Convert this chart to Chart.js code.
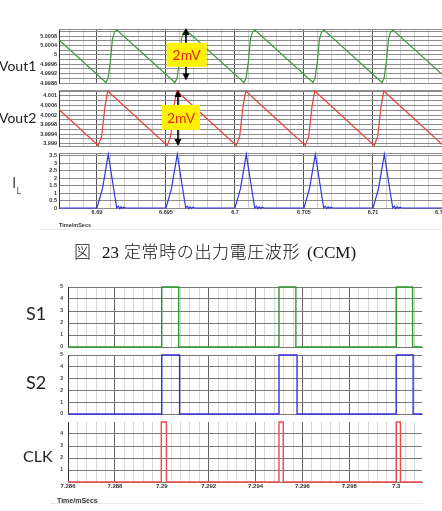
<!DOCTYPE html>
<html>
<head>
<meta charset="utf-8">
<script src="https://cdn.jsdelivr.net/npm/chart.js@4.4.1/dist/chart.umd.min.js"></script>
<style>
  html, body { margin: 0; padding: 0; background: #fff; width: 442px; height: 511px; overflow: hidden; }
  canvas { position: absolute; }
  .side { position: absolute; font-family: Lato, sans-serif; color: #222; white-space: nowrap; line-height: 1; }
  .axisTitle { position: absolute; font-family: "Liberation Sans", sans-serif; font-weight: bold; color: #333; white-space: nowrap; line-height: 1; }
  .rule { position: absolute; height: 1px; background: #e8e8e8; }
  #caption { position: absolute; left: 74px; top: 242px; font-size: 17px; line-height: 1; white-space: nowrap; color: #111; }
  #caption .jp { font-family: "Noto Sans CJK JP", sans-serif; font-weight: 300; }
  #caption .lat { font-family: "Liberation Serif", serif; }
</style>
</head>
<body>
<canvas id="vout1" width="412" height="63" style="left:30px;top:24px"></canvas>
<canvas id="vout2" width="412" height="65" style="left:30px;top:85px"></canvas>
<canvas id="il" width="412" height="72" style="left:30px;top:148px"></canvas>
<canvas id="s1" width="377" height="69" style="left:48px;top:282px"></canvas>
<canvas id="s2" width="377" height="68" style="left:48px;top:350px"></canvas>
<canvas id="clk" width="377" height="75" style="left:48px;top:417px"></canvas>

<div class="side" style="left:-1px;top:59px;font-size:14px">Vout1</div>
<div class="side" style="left:-1px;top:111px;font-size:14px">Vout2</div>
<div class="side" style="left:12px;top:174px;font-size:16px;color:#555">I<span style="font-size:9px;position:relative;top:6px">L</span></div>
<div class="side" style="left:26px;top:304px;font-size:18px">S1</div>
<div class="side" style="left:26px;top:373px;font-size:18px">S2</div>
<div class="side" style="left:23px;top:448px;font-size:16px">CLK</div>

<div class="axisTitle" style="left:59px;top:223px;font-size:5.5px">Time/mSecs</div>
<div class="rule" style="left:40px;top:229px;width:402px"></div>
<div class="axisTitle" style="left:57px;top:497px;font-size:7px">Time/mSecs</div>
<div class="rule" style="left:50px;top:503px;width:373px"></div>

<div id="caption"><span class="jp">図</span><span class="lat" style="margin-left:11px">23</span><span class="jp" style="margin-left:5px;letter-spacing:0.6px">定常時の出力電圧波形</span><span class="lat" style="margin-left:7px">(CCM)</span></div>

<script>
// ---- Figure 23: output voltage ripple and inductor current (time in ms) ----
const fig1TimeLabels = [6.69, 6.695, 6.7, 6.705, 6.71, 6.715];
const vout1TickLabels = [4.9988, 4.9992, 4.9996, 5, 5.0004, 5.0008];
const vout2TickLabels = [3.999, 3.9994, 3.9998, 4.0002, 4.0006, 4.001];
const ilTickLabels = [0, 0.5, 1, 1.5, 2, 2.5, 3, 3.5];

const vout1Time = [6.68725,
  6.69065, 6.6908, 6.69098, 6.69112, 6.69127, 6.69145,
  6.69565, 6.6958, 6.69598, 6.69612, 6.69627, 6.69645,
  6.70065, 6.7008, 6.70098, 6.70112, 6.70127, 6.70145,
  6.70565, 6.7058, 6.70598, 6.70612, 6.70627, 6.70645,
  6.71065, 6.7108, 6.71098, 6.71112, 6.71127, 6.71145,
  6.715];
const vout1Level = [5.00063,
  4.99882, 4.99899, 4.99975, 5.00067, 5.00097, 5.00106,
  4.99882, 4.99899, 4.99975, 5.00067, 5.00097, 5.00106,
  4.99882, 4.99899, 4.99975, 5.00067, 5.00097, 5.00106,
  4.99882, 4.99899, 4.99975, 5.00067, 5.00097, 5.00106,
  4.99882, 4.99899, 4.99975, 5.00067, 5.00097, 5.00106,
  4.99917];

const vout2Time = [6.68725,
  6.69009, 6.69034, 6.69058, 6.69078,
  6.69509, 6.69534, 6.69558, 6.69578,
  6.70009, 6.70034, 6.70058, 6.70078,
  6.70509, 6.70534, 6.70558, 6.70578,
  6.71009, 6.71034, 6.71058, 6.71078,
  6.715];
const vout2Level = [4.00043,
  3.99892, 3.9993, 4.00055, 4.00121,
  3.99892, 3.9993, 4.00055, 4.00121,
  3.99892, 3.9993, 4.00055, 4.00121,
  3.99892, 3.9993, 4.00055, 4.00121,
  3.99892, 3.9993, 4.00055, 4.00121,
  3.99897];

const ilTime = [6.68725,
  6.69, 6.6904, 6.69082, 6.69143, 6.69155, 6.69165, 6.69175, 6.69185, 6.69195, 6.6921,
  6.695, 6.6954, 6.69582, 6.69643, 6.69655, 6.69665, 6.69675, 6.69685, 6.69695, 6.6971,
  6.7, 6.7004, 6.70082, 6.70143, 6.70155, 6.70165, 6.70175, 6.70185, 6.70195, 6.7021,
  6.705, 6.7054, 6.70582, 6.70643, 6.70655, 6.70665, 6.70675, 6.70685, 6.70695, 6.7071,
  6.71, 6.7104, 6.71082, 6.71143, 6.71155, 6.71165, 6.71175, 6.71185, 6.71195, 6.7121,
  6.715];
const ilCurrent = [0,
  0, 1.3, 3.6, 0, 0.12, -0.05, 0.08, -0.03, 0.05, 0,
  0, 1.3, 3.6, 0, 0.12, -0.05, 0.08, -0.03, 0.05, 0,
  0, 1.3, 3.6, 0, 0.12, -0.05, 0.08, -0.03, 0.05, 0,
  0, 1.3, 3.6, 0, 0.12, -0.05, 0.08, -0.03, 0.05, 0,
  0, 1.3, 3.6, 0, 0.12, -0.05, 0.08, -0.03, 0.05, 0,
  0];

// ---- Second figure: gate signals S1, S2 and clock ----
const fig2TimeLabels = [7.286, 7.288, 7.29, 7.292, 7.294, 7.296, 7.298, 7.3];
const gateTickLabels = [0, 1, 2, 3, 4, 5];
const clkTickLabels = [1, 2, 3, 4];

const s1Time = [7.286, 7.29, 7.29, 7.29072, 7.29072, 7.295, 7.295, 7.29572, 7.29572, 7.3, 7.3, 7.3007, 7.3007, 7.3011];
const s1Level = [0, 0, 5, 5, 0, 0, 5, 5, 0, 0, 5, 5, 0, 0];
const s2Time = [7.286, 7.29, 7.29, 7.29076, 7.29076, 7.295, 7.295, 7.29577, 7.29577, 7.3, 7.3, 7.30072, 7.30072, 7.3011];
const s2Level = [0, 0, 5, 5, 0, 0, 5, 5, 0, 0, 5, 5, 0, 0];
const clkTime = [7.286, 7.28998, 7.28998, 7.2902, 7.2902, 7.295, 7.295, 7.29518, 7.29518, 7.3, 7.3, 7.30018, 7.30018, 7.3011];
const clkLevel = [0, 0, 5, 5, 0, 0, 5, 5, 0, 0, 5, 5, 0, 0];

function inList(list, v) {
  return list.some(t => Math.abs(t - v) < 1e-7);
}

// top edge of the plot frame
const topEdgePlugin = {
  id: 'topEdge',
  beforeDatasetsDraw(chart, args, opts) {
    if (!opts || !opts.color) return;
    const { ctx, chartArea } = chart;
    ctx.save();
    ctx.strokeStyle = opts.color;
    ctx.lineWidth = 1;
    ctx.beginPath();
    ctx.moveTo(chartArea.left, chartArea.top + 0.5);
    ctx.lineTo(chartArea.right, chartArea.top + 0.5);
    ctx.stroke();
    ctx.restore();
  }
};

// double arrow + yellow "2mV" tag
const markerPlugin = {
  id: 'marker',
  afterDatasetsDraw(chart, args, opts) {
    if (!opts || opts.at === undefined) return;
    const { ctx, scales: { x, y } } = chart;
    const px = x.getPixelForValue(opts.at);
    const top = y.getPixelForValue(opts.from);
    const bottom = y.getPixelForValue(opts.to);
    ctx.save();
    ctx.strokeStyle = '#000';
    ctx.fillStyle = '#000';
    ctx.lineWidth = 1.6;
    ctx.beginPath();
    ctx.moveTo(px, top + 5);
    ctx.lineTo(px, bottom - 5);
    ctx.stroke();
    ctx.beginPath();
    ctx.moveTo(px, top); ctx.lineTo(px - 3.5, top + 7); ctx.lineTo(px + 3.5, top + 7); ctx.closePath();
    ctx.fill();
    ctx.beginPath();
    ctx.moveTo(px, bottom); ctx.lineTo(px - 3.5, bottom - 7); ctx.lineTo(px + 3.5, bottom - 7); ctx.closePath();
    ctx.fill();
    const bx = x.getPixelForValue(opts.boxAt);
    const by = y.getPixelForValue(opts.boxLevel);
    ctx.fillStyle = '#fff200';
    ctx.fillRect(bx - opts.w / 2, by - opts.h / 2, opts.w, opts.h);
    ctx.fillStyle = '#e3261c';
    ctx.font = '14px Lato';
    ctx.textAlign = 'center';
    ctx.textBaseline = 'middle';
    ctx.fillText(opts.text, bx, by + 1);
    ctx.restore();
  }
};

function makePanel(id, o) {
  const zeroPad = (s) => { s.paddingTop = 0; s.paddingBottom = 0; s.paddingLeft = 0; s.paddingRight = 0; };
  return new Chart(document.getElementById(id), {
    type: 'line',
    data: {
      datasets: [{
        data: o.time.map((t, i) => ({ x: t, y: o.value[i] })),
        borderColor: o.color,
        borderWidth: o.width || 1.2,
        pointRadius: 0,
        tension: 0,
        fill: false,
        clip: 4
      }]
    },
    options: {
      responsive: false,
      animation: false,
      events: [],
      layout: { padding: o.pad },
      plugins: {
        legend: { display: false },
        tooltip: { enabled: false },
        marker: o.marker || false,
        topEdge: o.topEdge ? { color: o.topEdge } : false
      },
      scales: {
        x: {
          type: 'linear',
          min: o.xMin,
          max: o.xMax,
          ticks: {
            stepSize: o.xStep,
            includeBounds: false,
            autoSkip: false,
            maxRotation: 0,
            display: o.showX,
            padding: 1,
            color: '#333',
            font: { family: 'Liberation Sans', size: o.xFont, weight: 'bold' },
            callback: (v) => inList(o.xLabels, v) ? String(Number(v.toFixed(4))) : ''
          },
          grid: {
            drawTicks: false,
            color: (c) => inList(o.xLabels, c.tick.value) ? o.xMajor : o.xMinor
          },
          border: { display: true, color: o.yGrid },
          afterFit: (s) => { s.height = o.xH; zeroPad(s); }
        },
        y: {
          min: o.yMin,
          max: o.yMax,
          ticks: {
            stepSize: o.yStep,
            includeBounds: false,
            autoSkip: false,
            padding: o.yPad,
            color: '#333',
            font: { family: 'Liberation Sans', size: o.yFont, weight: 'bold' },
            callback: (v) => inList(o.yLabels, v) ? String(Number(v.toFixed(4))) : ''
          },
          grid: {
            drawTicks: false,
            color: (c) => (o.hideTop && c.tick.value === o.yMax) ? 'rgba(0,0,0,0)' : o.yGrid
          },
          border: { display: true, color: '#333' },
          afterFit: (s) => { s.width = o.yW; zeroPad(s); }
        }
      }
    },
    plugins: [topEdgePlugin, markerPlugin]
  });
}

const fig1 = {
  xMin: 6.68725, xMax: 6.715, xStep: 0.001, xLabels: fig1TimeLabels,
  xMajor: '#555', xMinor: '#cfcfcf', xFont: 5.5, yFont: 5.5, yW: 29, yPad: 2, topEdge: '#8c8c8c'
};

makePanel('vout1', Object.assign({}, fig1, {
  time: vout1Time, value: vout1Level, color: '#3f9a3f',
  yMin: 4.9988, yMax: 5.0011, yStep: 0.0002, yLabels: vout1TickLabels, yGrid: '#8c8c8c',
  showX: false, xH: 0, pad: { top: 5, bottom: 4, left: 0, right: 0 },
  marker: { at: 6.69645, from: 5.00114, to: 4.99891, boxAt: 6.6965, boxLevel: 5.0, w: 40, h: 24, text: '2mV' }
}));

makePanel('vout2', Object.assign({}, fig1, {
  time: vout2Time, value: vout2Level, color: '#e8403a',
  yMin: 3.9989, yMax: 4.00125, yStep: 0.0002, yLabels: vout2TickLabels, yGrid: '#8c8c8c',
  showX: false, xH: 0, pad: { top: 5, bottom: 4, left: 0, right: 0 },
  marker: { at: 6.69587, from: 4.00125, to: 3.9989, boxAt: 6.69609, boxLevel: 4.0001, w: 38, h: 25, text: '2mV' }
}));

makePanel('il', Object.assign({}, fig1, {
  time: ilTime, value: ilCurrent, color: '#3535e0',
  yMin: 0, yMax: 3.7, yStep: 0.5, yLabels: ilTickLabels, yGrid: '#8c8c8c',
  showX: true, xH: 12, pad: { top: 5, bottom: 0, left: 0, right: 0 }
}));

const fig2 = {
  xMin: 7.286, xMax: 7.3011, xStep: 0.0004, xLabels: fig2TimeLabels,
  xMajor: '#666', xMinor: '#d8d8d8', xFont: 6, yFont: 5, yW: 20, yPad: 5,
  yMin: 0, yMax: 5, yStep: 1, yGrid: '#777', width: 1.4
};

makePanel('s1', Object.assign({}, fig2, {
  time: s1Time, value: s1Level, color: '#2f9a2f', yLabels: gateTickLabels,
  showX: false, xH: 0, pad: { top: 5, bottom: 4, left: 0, right: 3 }
}));

makePanel('s2', Object.assign({}, fig2, {
  time: s2Time, value: s2Level, color: '#3434dc', yLabels: gateTickLabels,
  showX: false, xH: 0, pad: { top: 5, bottom: 4, left: 0, right: 3 }
}));

makePanel('clk', Object.assign({}, fig2, {
  time: clkTime, value: clkLevel, color: '#f04848', yLabels: clkTickLabels, hideTop: true,
  showX: true, xH: 10, pad: { top: 5, bottom: 0, left: 0, right: 3 }
}));
</script>
</body>
</html>
